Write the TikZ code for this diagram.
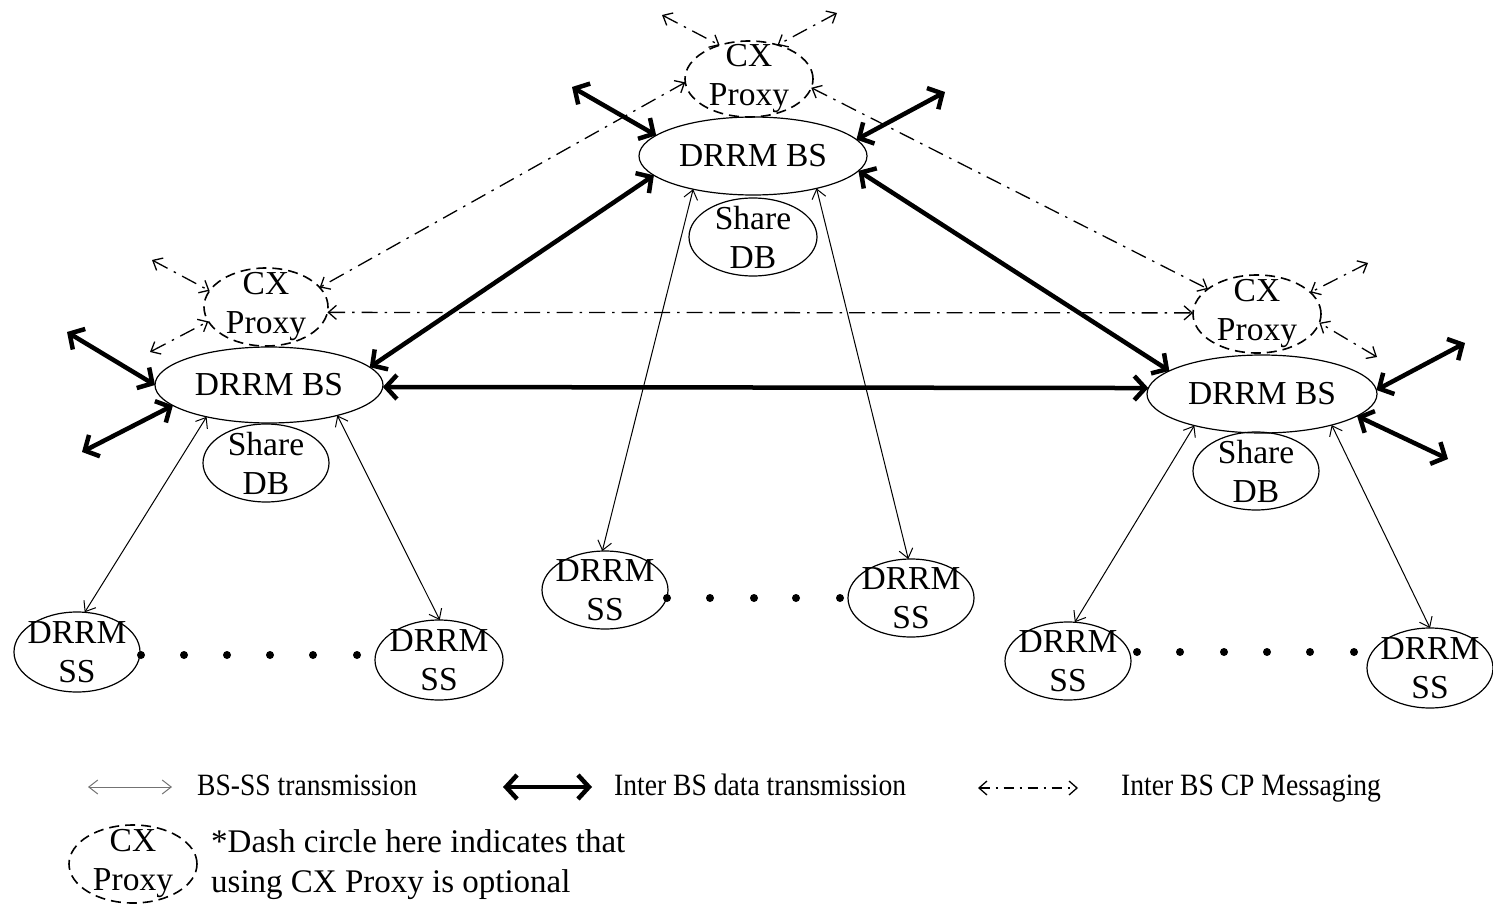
\documentclass[tikz,border=0pt]{standalone}
\usepackage{fontspec}
\setmainfont{Liberation Serif}
\newfontfamily\condfont[FakeStretch=0.89]{Liberation Serif}
\usetikzlibrary{arrows.meta,shapes.geometric}
\begin{document}
\begin{tikzpicture}[x=1pt,y=-1pt,
  ell/.style={ellipse, draw, line width=1.2pt, inner sep=0pt, outer sep=0pt},
  dell/.style={ellipse, draw, line width=1.6pt, dash pattern=on 10pt off 6pt, inner sep=0pt, outer sep=0pt},
  txt/.style={font=\fontsize{33.5}{39}\selectfont, align=center, inner sep=0pt},
  legt/.style={font=\condfont\fontsize{31}{36}\selectfont, inner sep=0pt, anchor=west},
  bsss/.style={line width=1pt, {Straight Barb[length=9pt,width=14pt]}-{Straight Barb[length=9pt,width=14pt]}},
  interbs/.style={line width=4.5pt, {Straight Barb[length=11pt,width=24pt]}-{Straight Barb[length=11pt,width=24pt]}},
  cpmsg/.style={line width=1.3pt, dash pattern=on 16pt off 7pt on 2.5pt off 7pt, {Straight Barb[length=8pt,width=14pt]}-{Straight Barb[length=8pt,width=14pt]}},
  dotnode/.style={circle, fill, inner sep=0pt, minimum size=8pt}
]
\useasboundingbox (0,0) rectangle (1493,904);

% ---------- top cluster
\node[dell, minimum width=128pt, minimum height=76pt] (topcx) at (749,79) {};
\node[txt] (topcxt) at (topcx) {CX\\Proxy};
\node[ell, minimum width=228pt, minimum height=78pt] (topbs) at (753,156) {};
\node[txt] (topbst) at (topbs) {DRRM BS};
\node[ell, minimum width=128pt, minimum height=78pt] (topdb) at (753,237) {};
\node[txt] (topdbt) at (topdb) {Share\\DB};

% ---------- left cluster
\node[dell, minimum width=124pt, minimum height=78pt] (lcx) at (266,307) {};
\node[txt] (lcxt) at (lcx) {CX\\Proxy};
\node[ell, minimum width=228pt, minimum height=76pt] (lbs) at (269,385) {};
\node[txt] (lbst) at (lbs) {DRRM BS};
\node[ell, minimum width=126pt, minimum height=78pt] (ldb) at (266,463) {};
\node[txt] (ldbt) at (ldb) {Share\\DB};

% ---------- right cluster
\node[dell, minimum width=128pt, minimum height=78pt] (rcx) at (1257,314) {};
\node[txt] (rcxt) at (rcx) {CX\\Proxy};
\node[ell, minimum width=230pt, minimum height=78pt] (rbs) at (1262,394) {};
\node[txt] (rbst) at (rbs) {DRRM BS};
\node[ell, minimum width=126pt, minimum height=78pt] (rdb) at (1256,471) {};
\node[txt] (rdbt) at (rdb) {Share\\DB};

% ---------- subscriber stations
\node[ell, minimum width=126pt, minimum height=80pt] (lss1) at (77,652) {};
\node[txt] (lss1t) at (lss1) {DRRM\\SS};
\node[ell, minimum width=128pt, minimum height=80pt] (lss2) at (439,660) {};
\node[txt] (lss2t) at (lss2) {DRRM\\SS};
\node[ell, minimum width=126pt, minimum height=78pt] (mss1) at (605,590) {};
\node[txt] (mss1t) at (mss1) {DRRM\\SS};
\node[ell, minimum width=126pt, minimum height=78pt] (mss2) at (911,598) {};
\node[txt] (mss2t) at (mss2) {DRRM\\SS};
\node[ell, minimum width=126pt, minimum height=78pt] (rss1) at (1068,661) {};
\node[txt] (rss1t) at (rss1) {DRRM\\SS};
\node[ell, minimum width=126pt, minimum height=80pt] (rss2) at (1430,668) {};
\node[txt] (rss2t) at (rss2) {DRRM\\SS};

% ---------- dots
\foreach \x [count=\i] in {141,184,227,270,313,357} \node[dotnode] (ld\i) at (\x,655) {};
\foreach \x [count=\i] in {667,710,754,796,840} \node[dotnode] (md\i) at (\x,598) {};
\foreach \x [count=\i] in {1137,1180,1224,1267,1310,1354} \node[dotnode] (rd\i) at (\x,652) {};

% ---------- BS-SS transmission
\draw[bsss] (topbs.-151) -- (mss1.94.5);
\draw[bsss] (topbs.-27) -- (mss2.94);
\draw[bsss] (lbs.-153) -- (lss1.79);
\draw[bsss] (lbs.-24) -- (lss2.89);
\draw[bsss] (rbs.-155) -- (rss1.80);
\draw[bsss] (rbs.-24.5) -- (rss2.90);

% ---------- inter BS data transmission
\draw[interbs] (topbs.-169) -- (lbs.10.6);
\draw[interbs] (topbs.-8.5) -- (rbs.166);
\draw[interbs] (lbs.-1.5) -- (rbs.177);
\coordinate (etl) at (572,87);
\coordinate (etr) at (945,92);
\coordinate (el1) at (67,332);
\coordinate (el2) at (82,452);
\coordinate (er1) at (1465,343);
\coordinate (er2) at (1448,459);
\draw[interbs] (etl) -- (topbs.168.5);
\draw[interbs] (etr) -- (topbs.9);
\draw[interbs] (el1) -- (lbs.180);
\draw[interbs] (el2) -- (lbs.-168);
\draw[interbs] (er1) -- (rbs.2);
\draw[interbs] (er2) -- (rbs.-13);

% ---------- inter BS CP messaging
\draw[cpmsg] (topcx.-177) -- (lcx.20.4);
\draw[cpmsg] (topcx.-8) -- (rcx.153.4);
\draw[cpmsg] (lcx.-5.4) -- (rcx.179);
\coordinate (ctl) at (662,15);
\coordinate (ctr) at (837,13);
\coordinate (cl1) at (152,260);
\coordinate (cl2) at (150,352);
\coordinate (cr1) at (1368,263);
\coordinate (cr2) at (1377,357);
\draw[cpmsg] (ctl) -- (topcx.131.6);
\draw[cpmsg] (ctr) -- (topcx.50.8);
\draw[cpmsg] (cl1) -- (lcx.164);
\draw[cpmsg] (cl2) -- (lcx.-166);
\draw[cpmsg] (cr1) -- (rcx.22.5);
\draw[cpmsg] (cr2) -- (rcx.-8);

% ---------- legend
\coordinate (la1) at (88,787);
\coordinate (la2) at (172,787);
\draw[bsss, draw=black!55] (la1) -- (la2);
\node[legt] (lt1) at (197,785) {BS-SS transmission};
\coordinate (lb1) at (503,787);
\coordinate (lb2) at (592,787);
\draw[interbs] (lb1) -- (lb2);
\node[legt] (lt2) at (614,785) {Inter BS data transmission};
\coordinate (lc1) at (978,788);
\coordinate (lc2) at (1078,788);
\draw[cpmsg, dash pattern=on 10pt off 6pt on 2pt off 6pt] (lc1) -- (lc2);
\node[legt] (lt3) at (1121,789) {Inter BS CP Messaging};
\node[dell, minimum width=128pt, minimum height=78pt] (legcx) at (133,864) {};
\node[txt] (legcxt) at (legcx) {CX\\Proxy};
\node[txt, align=left, anchor=west, font=\fontsize{33}{40}\selectfont] (lt4) at (211,865) {*Dash circle here indicates that\\using CX Proxy is optional};
\end{tikzpicture}
\end{document}
